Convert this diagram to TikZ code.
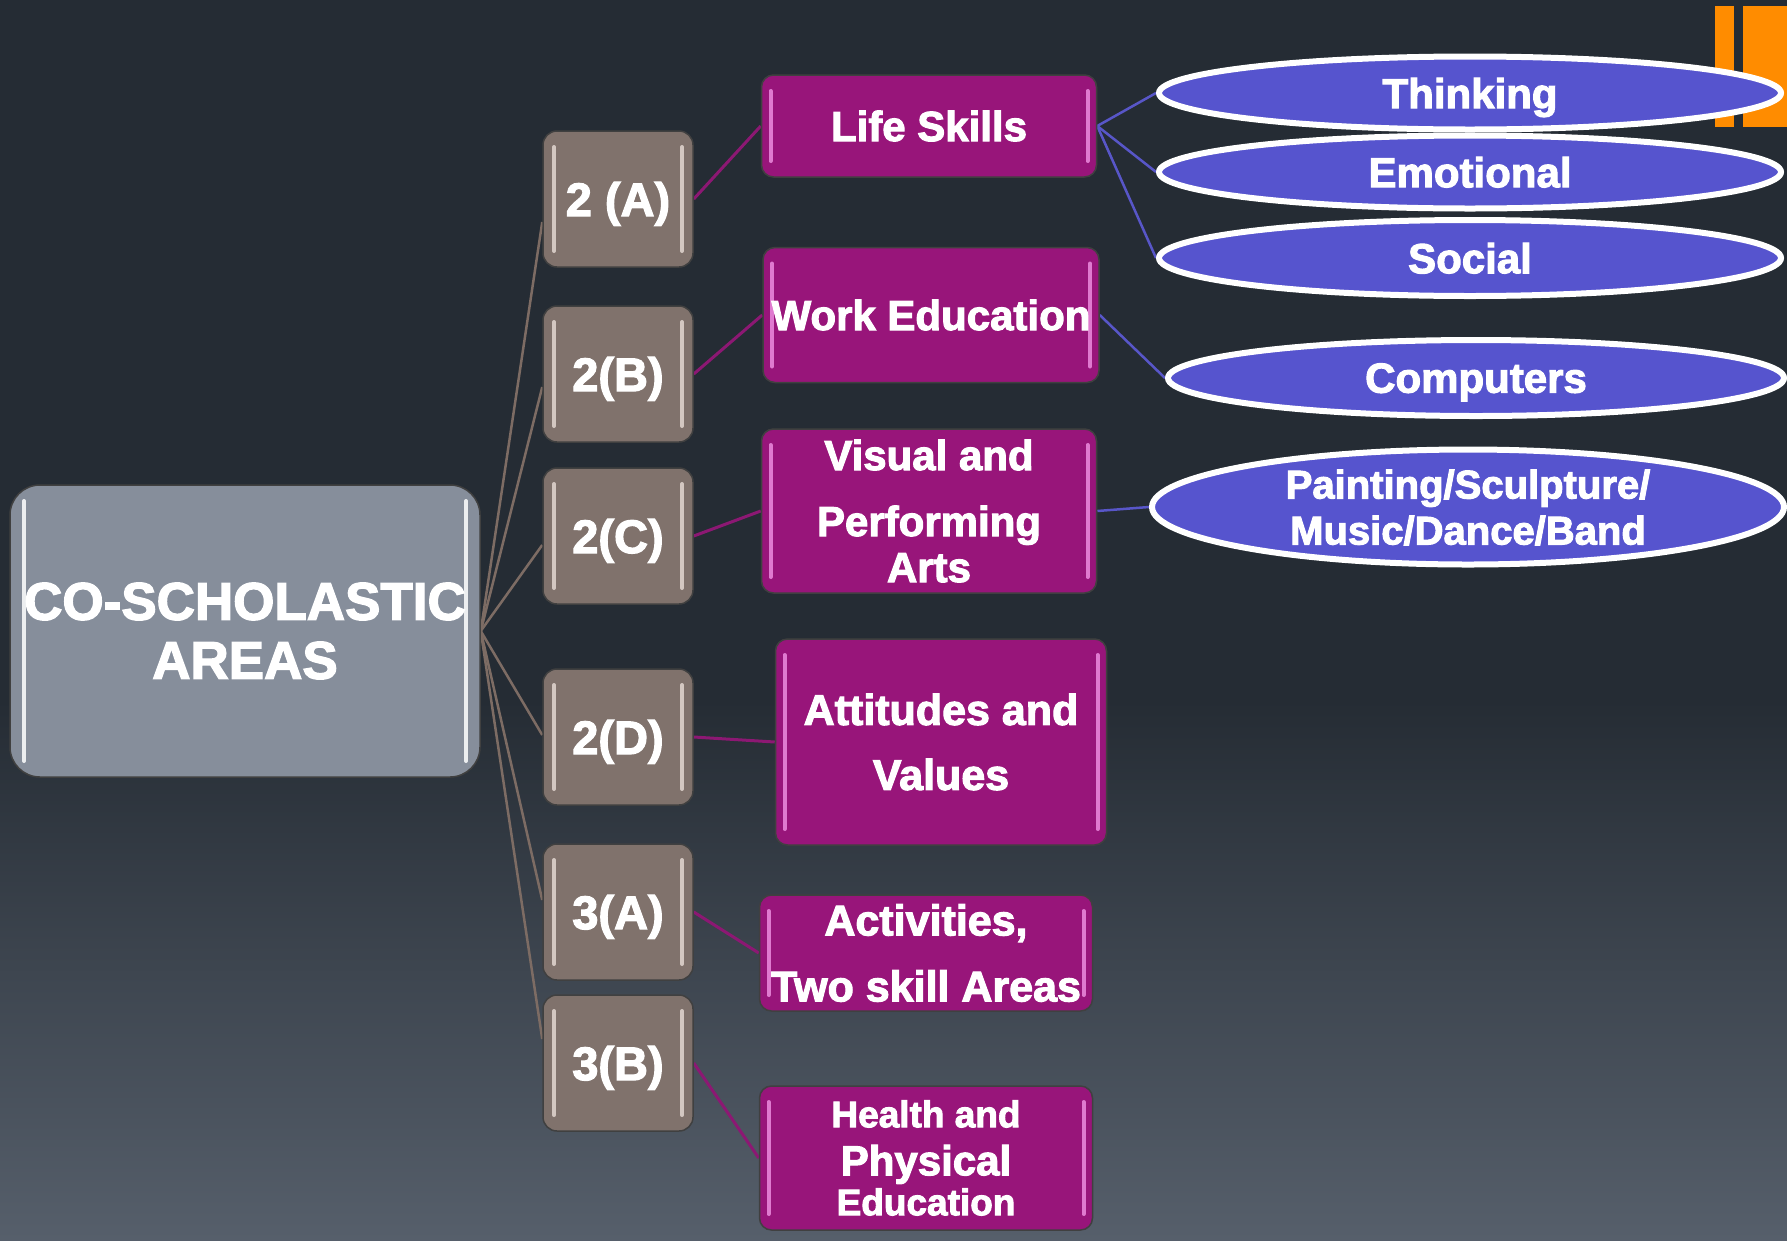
\documentclass[tikz,border=0pt]{standalone}
\usepackage{fontspec}
\setmainfont{Liberation Sans}[BoldFeatures={FakeBold=2.5}]
\usetikzlibrary{shapes.geometric,calc}
\definecolor{bgtop}{RGB}{37,44,52}
\definecolor{bgbot}{RGB}{86,95,107}
\definecolor{centralc}{RGB}{134,142,155}
\definecolor{brownc}{RGB}{128,114,108}
\definecolor{purplec}{RGB}{152,21,122}
\definecolor{bluec}{RGB}{86,84,206}
\definecolor{orangec}{RGB}{255,140,0}
\definecolor{brownline}{RGB}{125,108,100}
\definecolor{purpleline}{RGB}{140,24,115}
\definecolor{blueline}{RGB}{88,86,200}
\definecolor{pinkhl}{RGB}{236,140,222}
\definecolor{brownhl}{RGB}{226,214,208}
\pgfdeclarelayer{bglayer}
\pgfdeclarelayer{edgelayer}
\pgfsetlayers{bglayer,edgelayer,main}
\tikzset{
  sidehl/.style 2 args={path picture={
    \draw[#1, line width=4pt, line cap=round, opacity=0.85]
      ([xshift=#2,yshift=-16pt]path picture bounding box.north west) --
      ([xshift=#2,yshift=16pt]path picture bounding box.south west);
    \draw[#1, line width=4pt, line cap=round, opacity=0.85]
      ([xshift=-#2,yshift=-16pt]path picture bounding box.north east) --
      ([xshift=-#2,yshift=16pt]path picture bounding box.south east);
  }},
  centralbox/.style={rectangle, rounded corners=30pt, fill=centralc,
    draw=black!75, line width=1.5pt, minimum width=470pt, minimum height=292pt,
    text=white, font=\bfseries\fontsize{53}{59}\selectfont, align=center,
    inner sep=0pt, sidehl={white}{14pt}},
  codebox/.style={rectangle, rounded corners=14pt, fill=brownc,
    draw=black!75, line width=1.5pt, minimum width=150pt, minimum height=136pt,
    text=white, font=\bfseries\fontsize{47}{52}\selectfont, align=center,
    inner sep=0pt, text depth=0pt, sidehl={brownhl}{11pt}},
  areabox/.style={rectangle, rounded corners=12pt, fill=purplec,
    draw=black!75, line width=1.5pt, text=white,
    font=\bfseries\fontsize{42}{46}\selectfont, align=center,
    inner sep=0pt, sidehl={pinkhl}{9pt}},
  subell/.style={ellipse, fill=bluec, draw=white, line width=6pt,
    inner sep=0pt, text=white, font=\bfseries\fontsize{42}{46}\selectfont,
    align=center, text depth=0pt},
  brownlink/.style={draw=brownline, line width=2.5pt},
  purplelink/.style={draw=purpleline, line width=3pt},
  bluelink/.style={draw=blueline, line width=2.5pt}
}
\begin{document}
\begin{tikzpicture}[x=1pt,y=-1pt]
\useasboundingbox (0,0) rectangle (1787,1240);
\begin{pgfonlayer}{bglayer}
  \fill[bgtop] (0,0) rectangle (1787,1240);
  \fill[top color=bgtop, bottom color=bgbot] (0,700) rectangle (1787,1240);
  \fill[orangec] (1715,6) rectangle (1734,127);
  \fill[orangec] (1743,6) rectangle (1787,127);
\end{pgfonlayer}

% central node
\node[centralbox] (cen) at (245,631) {CO-SCHOLASTIC\\AREAS};

% code boxes
\node[codebox] (b2a) at (618,199) {2 (A)};
\node[codebox] (b2b) at (618,374) {2(B)};
\node[codebox] (b2c) at (618,536) {2(C)};
\node[codebox] (b2d) at (618,737) {2(D)};
\node[codebox] (b3a) at (618,912) {3(A)};
\node[codebox] (b3b) at (618,1063) {3(B)};

% area boxes
\node[areabox, minimum width=335pt, minimum height=102pt] (ls) at (929,126) {Life Skills};
\node[areabox, minimum width=336pt, minimum height=135pt] (we) at (931,315) {Work Education};
\node[areabox, minimum width=335pt, minimum height=164pt] (vpa) at (929,511)
  {Visual and\\[20pt]Performing\\Arts};
\node[areabox, minimum width=331pt, minimum height=206pt,
  font=\bfseries\fontsize{43}{65}\selectfont] (av) at (941,742) {Attitudes and\\Values};
\node[areabox, minimum width=333pt, minimum height=116pt,
  font=\bfseries\fontsize{43}{66}\selectfont] (act) at (926,953) {Activities,\\Two skill Areas};
\node[areabox, minimum width=333pt, minimum height=144pt,
  font=\bfseries\fontsize{37}{44}\selectfont] (hpe) at (926,1158)
  {Health and\\[4pt]{\fontsize{42}{44}\selectfont Physical}\\[-4pt]Education};

% ellipses
\node[subell, minimum width=622pt, minimum height=73pt] (think) at (1470,93) {Thinking};
\node[subell, minimum width=622pt, minimum height=73pt] (emo) at (1470,172) {Emotional};
\node[subell, minimum width=622pt, minimum height=76pt] (soc) at (1470,258) {Social};
\node[subell, minimum width=616pt, minimum height=76pt] (comp) at (1476,378) {Computers};
\node[subell, minimum width=632pt, minimum height=115pt,
  font=\bfseries\fontsize{40}{46}\selectfont] (paint) at (1468,507)
  {Painting/Sculpture/\\Music/Dance/Band};

% connectors
\begin{pgfonlayer}{edgelayer}
  \draw[brownlink] (cen.east) -- ([yshift=-23pt]b2a.west);
  \draw[brownlink] (cen.east) -- ([yshift=-13pt]b2b.west);
  \draw[brownlink] (cen.east) -- ([yshift=-9pt]b2c.west);
  \draw[brownlink] (cen.east) -- ([yshift=2pt]b2d.west);
  \draw[brownlink] (cen.east) -- ([yshift=12pt]b3a.west);
  \draw[brownlink] (cen.east) -- ([yshift=24pt]b3b.west);
  \draw[purplelink] (b2a.east) -- (ls.west);
  \draw[purplelink] (b2b.east) -- (we.west);
  \draw[purplelink] (b2c.east) -- (vpa.west);
  \draw[purplelink] (b2d.east) -- (av.west);
  \draw[purplelink] (b3a.east) -- (act.west);
  \draw[purplelink] (b3b.east) -- (hpe.west);
  \draw[bluelink] (ls.east) -- (think.west);
  \draw[bluelink] (ls.east) -- (emo.west);
  \draw[bluelink] (ls.east) -- (soc.west);
  \draw[bluelink] (we.east) -- (comp.west);
  \draw[bluelink] (vpa.east) -- (paint.west);
\end{pgfonlayer}
\end{tikzpicture}
\end{document}
